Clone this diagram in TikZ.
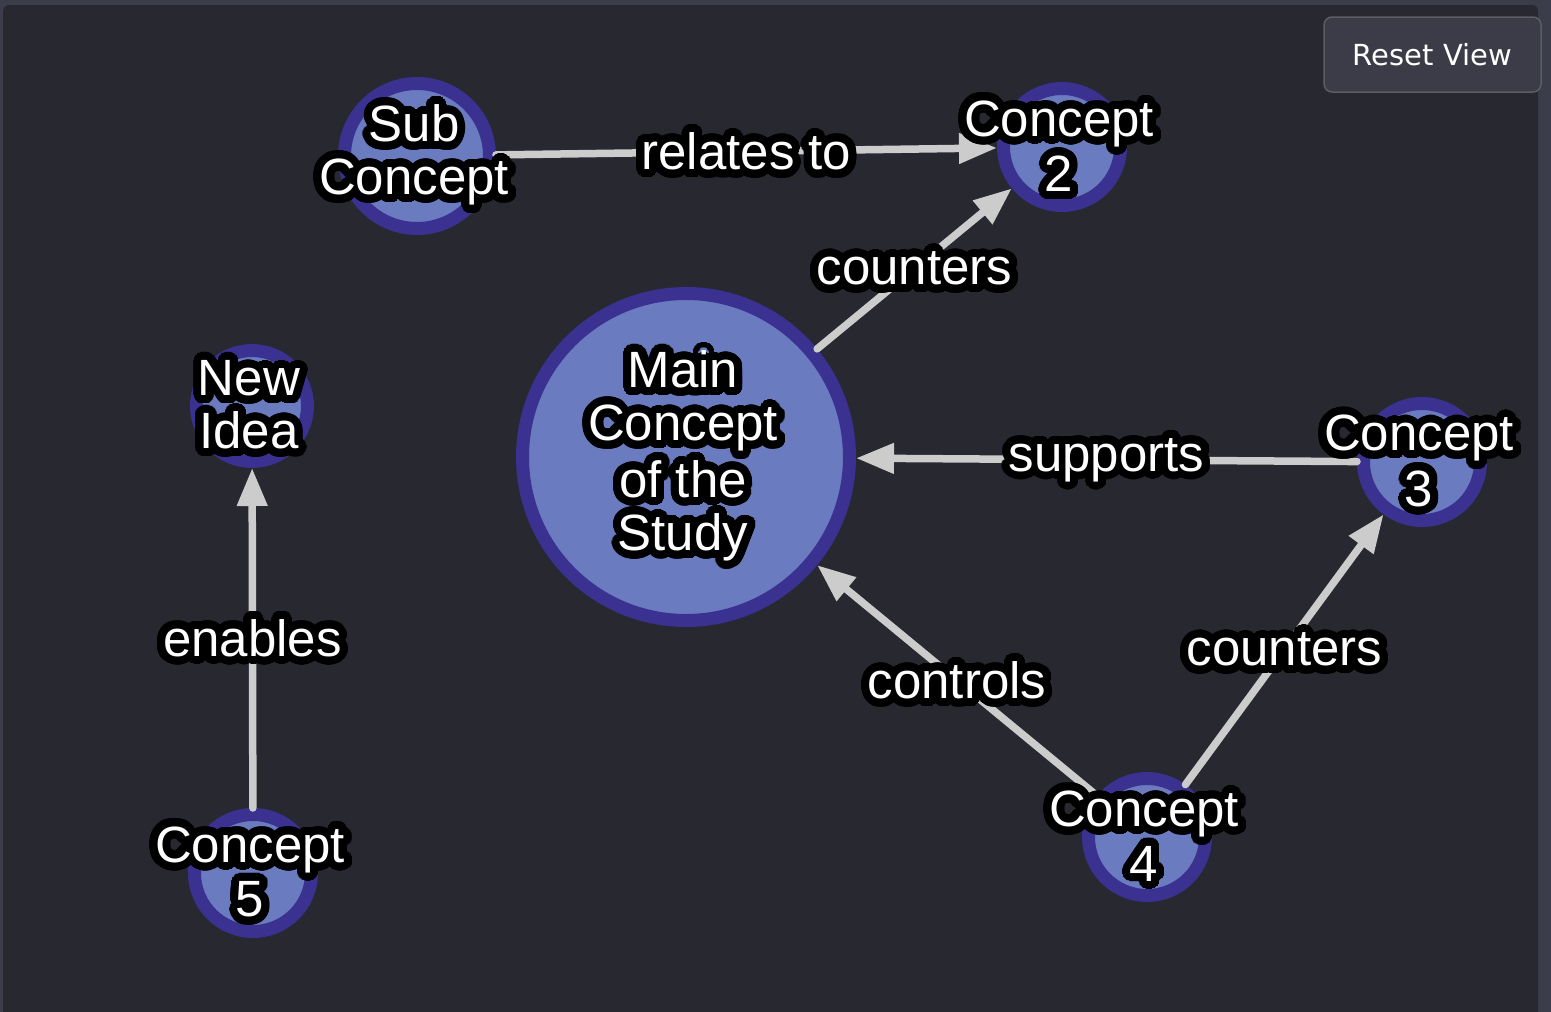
\documentclass[tikz,border=0pt]{standalone}
\usepackage{fontspec}
\setmainfont{Liberation Sans}
\newfontfamily\btnfont{DejaVu Sans}
\usepackage[copies]{contour}
\contourlength{8pt}
\contournumber{48}
\usetikzlibrary{arrows.meta}
\definecolor{panel}{HTML}{282831}
\definecolor{frame}{HTML}{3C3D4B}
\definecolor{nodefill}{HTML}{6A7BBF}
\definecolor{nodeedge}{HTML}{3A3190}
\definecolor{edgegrey}{HTML}{CCCCCC}
\definecolor{btnfill}{HTML}{3C3C48}
\definecolor{btnedge}{HTML}{5C5D62}
\newcommand{\outl}[1]{\contour{black}{#1}}
\tikzset{
 concept/.style={circle,draw=nodeedge,fill=nodefill,line width=13pt,inner sep=0pt,minimum size=#1},
 ntext/.style={text=white,align=center,inner sep=0pt,font=\fontsize{51}{53}\selectfont,xshift=-3pt,yshift=-3pt},
 rel/.style={draw=edgegrey,line width=7.5pt,-{Triangle[length=38pt,width=29pt]}},
 elabel/.style={text=white,inner sep=0pt,font=\fontsize{51}{53}\selectfont,yshift=-4pt},
 button/.style={draw=btnedge,fill=btnfill,line width=1.5pt,rounded corners=8pt,minimum width=217pt,minimum height=75pt,text=white,font=\btnfont\fontsize{29}{32}\selectfont}
}
\begin{document}
\begin{tikzpicture}[x=1pt,y=-1pt,line join=round,line cap=round]
 \useasboundingbox (0,0) rectangle (1551,1012);
 \fill[frame] (0,0) rectangle (1551,1012);
 \fill[panel,rounded corners=6pt] (3,5) rectangle (1538,1040);
 % concepts
 \node[concept=327pt] (main) at (686,457) {};
 \node[concept=145pt] (sub) at (417,156) {};
 \node[concept=117pt] (c2) at (1062,147) {};
 \node[concept=111pt] (idea) at (252,406) {};
 \node[concept=117pt] (c3) at (1422,462) {};
 \node[concept=117pt] (c4) at (1147,837) {};
 \node[concept=117pt] (c5) at (253,873) {};
 % relations
 \draw[rel] (sub) -- node[elabel]{\outl{relates to}} (c2);
 \draw[rel] (main) -- node[elabel]{\outl{counters}} (c2);
 \draw[rel] (c3) -- node[elabel]{\outl{supports}} (main);
 \draw[rel] (c4) -- node[elabel]{\outl{controls}} (main);
 \draw[rel] (c4) -- node[elabel]{\outl{counters}} (c3);
 \draw[rel] (c5) -- node[elabel]{\outl{enables}} (idea);
 % names on top
 \node[ntext] (main-t) at (main.center) {\outl{Main}\\\outl{Concept}\\\outl{of the}\\\outl{Study}};
 \node[ntext] (sub-t) at (sub.center) {\outl{Sub}\\\outl{Concept}};
 \node[ntext] (c2-t) at (c2.center) {\outl{Concept}\\\outl{2}};
 \node[ntext] (idea-t) at (idea.center) {\outl{New}\\\outl{Idea}};
 \node[ntext] (c3-t) at (c3.center) {\outl{Concept}\\\outl{3}};
 \node[ntext] (c4-t) at (c4.center) {\outl{Concept}\\\outl{4}};
 \node[ntext] (c5-t) at (c5.center) {\outl{Concept}\\\outl{5}};
 \node[button] (reset) at (1432.5,54.5) {Reset View};
\end{tikzpicture}
\end{document}
